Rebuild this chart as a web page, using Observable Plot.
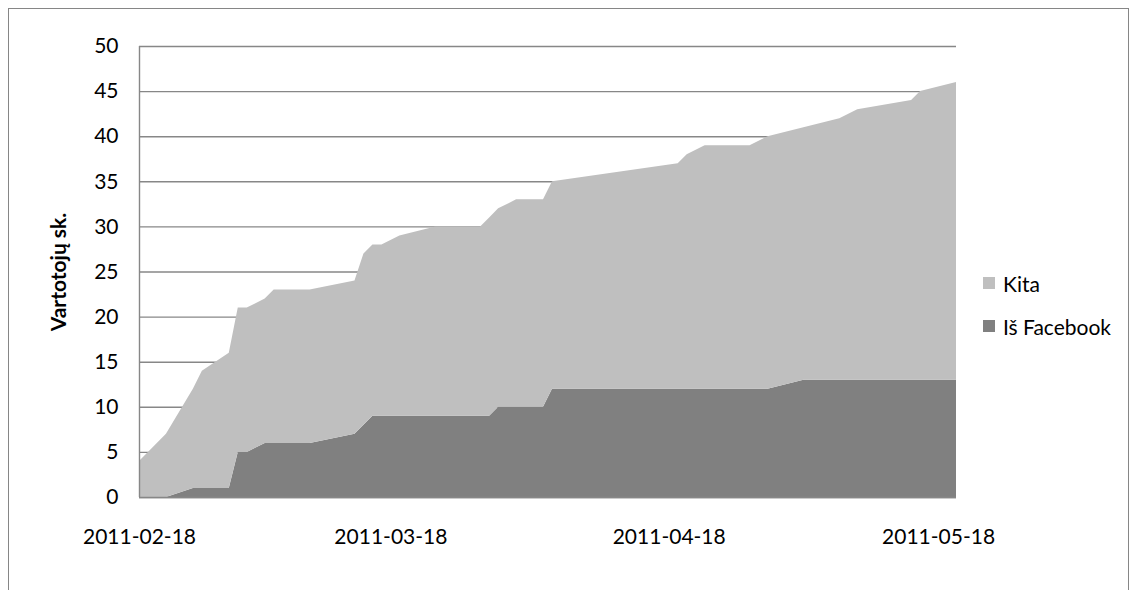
<!DOCTYPE html>
<html>
<head>
<meta charset="utf-8">
<script src="https://cdn.jsdelivr.net/npm/d3@7"></script>
<script src="https://cdn.jsdelivr.net/npm/@observablehq/plot@0.6"></script>
<style>
  html, body { margin: 0; padding: 0; background: #fff; overflow: hidden; }
  #wrap { position: relative; width: 1138px; height: 590px; overflow: hidden; font-family: Lato, "Open Sans", sans-serif; }
  #frame { position: absolute; left: 8px; top: 8px; width: 1121px; height: 640px; border: 1.3px solid #868686; box-sizing: border-box; }
  #chart { position: absolute; left: 0; top: 0; }
  #chart g[aria-label="y-axis label"] text { font-weight: bold; }
  #legend { position: absolute; left: 983px; top: 270px; font-size: 21px; color: #000; }
  #legend .item { display: flex; align-items: center; height: 26px; margin-bottom: 17px; }
  #legend .sw { width: 12px; height: 12px; margin-right: 8px; }
</style>
</head>
<body>
<div id="wrap">
  <div id="frame"></div>
  <div id="chart"></div>
  <div id="legend"></div>
</div>
<script>
// Registration dates (cumulative user counts change on these days)
const dates = [
  "2011-02-18", "2011-02-21", "2011-02-24", "2011-02-25", "2011-02-28",
  "2011-03-01", "2011-03-02", "2011-03-04", "2011-03-05", "2011-03-09",
  "2011-03-14", "2011-03-15", "2011-03-16", "2011-03-17", "2011-03-19",
  "2011-03-23", "2011-03-28", "2011-03-29", "2011-03-30", "2011-04-01",
  "2011-04-04", "2011-04-05", "2011-04-19", "2011-04-20", "2011-04-22",
  "2011-04-27", "2011-04-29", "2011-05-03", "2011-05-07", "2011-05-09",
  "2011-05-15", "2011-05-16", "2011-05-20"
];
// Users who came from Facebook
const fromFacebook = [
  0, 0, 1, 1, 1,
  5, 5, 6, 6, 6,
  7, 8, 9, 9, 9,
  9, 9, 9, 10, 10,
  10, 12, 12, 12, 12,
  12, 12, 13, 13, 13,
  13, 13, 13
];
// Users from all other sources
const other = [
  4, 7, 11, 13, 15,
  16, 16, 16, 17, 17,
  17, 19, 19, 19, 20,
  21, 21, 22, 22, 23,
  23, 23, 25, 26, 27,
  27, 28, 28, 29, 30,
  31, 32, 33
];
const seriesNames = ["Kita", "Iš Facebook"];
const seriesColors = ["#bfbfbf", "#808080"];
const yTicks = [0, 5, 10, 15, 20, 25, 30, 35, 40, 45, 50];
const xTickLabels = ["2011-02-18", "2011-03-18", "2011-04-18", "2011-05-18"];
const xDomain = ["2011-02-18", "2011-05-20"];
const yTitle = "Vartotojų sk.";

const parse = d3.utcParse("%Y-%m-%d");
const rows = [];
dates.forEach((d, i) => {
  rows.push({date: parse(d), series: "Iš Facebook", value: fromFacebook[i]});
  rows.push({date: parse(d), series: "Kita", value: other[i]});
});

const gridColor = "#878787";

const chart = Plot.plot({
  width: 1138,
  height: 590,
  marginLeft: 139,
  marginRight: 182,
  marginTop: 46,
  marginBottom: 93,
  style: {fontFamily: "Lato, 'Open Sans', sans-serif", fontSize: "21px", color: "#000", background: "transparent"},
  x: {type: "utc", domain: xDomain.map(parse)},
  y: {domain: [0, 50]},
  color: {domain: seriesNames, range: seriesColors},
  marks: [
    Plot.gridY(yTicks, {stroke: gridColor, strokeOpacity: 1, strokeWidth: 1.4}),
    Plot.areaY(rows, {
      x: "date", y: "value", fill: "series",
      order: ["Iš Facebook", "Kita"], curve: "linear"
    }),
    Plot.ruleY([0], {stroke: gridColor, strokeWidth: 1.4}),
    Plot.ruleX([parse(xDomain[0])], {stroke: gridColor, strokeWidth: 1.4}),
    Plot.axisY({
      ticks: yTicks, tickSize: 0, tickPadding: 21,
      label: yTitle, labelAnchor: "center", labelArrow: "none", labelOffset: 88
    }),
    Plot.axisX({
      ticks: xTickLabels.map(parse), tickFormat: d3.utcFormat("%Y-%m-%d"),
      tickSize: 0, tickPadding: 32, label: null
    })
  ]
});
document.getElementById("chart").appendChild(chart);

// Legend, top series first
const legend = document.getElementById("legend");
seriesNames.forEach((name, i) => {
  const item = document.createElement("div");
  item.className = "item";
  const sw = document.createElement("span");
  sw.className = "sw";
  sw.style.background = seriesColors[i];
  const label = document.createElement("span");
  label.textContent = name;
  item.appendChild(sw);
  item.appendChild(label);
  legend.appendChild(item);
});
</script>
</body>
</html>
